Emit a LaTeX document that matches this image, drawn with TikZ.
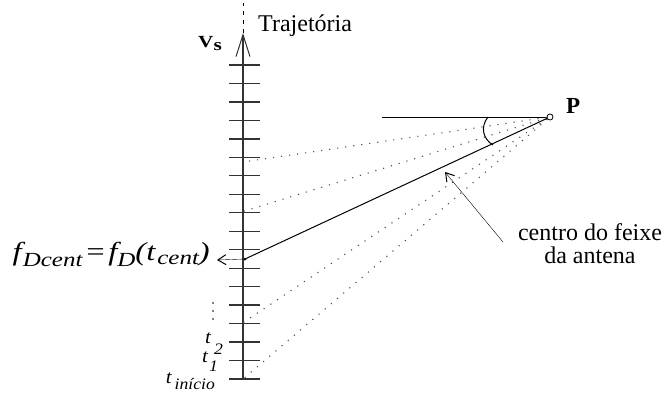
\documentclass[tikz,border=0pt]{standalone}
\usepackage{fontspec}
\setmainfont{Liberation Serif}
\newfontfamily\fwide[FakeStretch=1.25]{Liberation Serif}
\newfontfamily\fmid[FakeStretch=1.1]{Liberation Serif}
\usetikzlibrary{arrows.meta}
\begin{document}
\begin{tikzpicture}[x=1pt,y=-1pt,
  ticks/.style={line width=1.3pt,black!80},
  axisline/.style={line width=2pt,black!80},
  beam/.style={line width=1pt},
  dots/.style={line width=1.1pt,black!70,dash pattern=on 1.1pt off 7pt},
  lbl/.style={inner sep=0pt,font=\fontsize{24}{23}\selectfont},
  tlbl/.style={inner sep=0pt,anchor=base east,font=\fontsize{19}{19}\fmid\itshape},
  barb/.style={-{Straight Barb[length=8pt,width=10pt,line width=1pt]}}]
\useasboundingbox (0,0) rectangle (667,394);
% axis
\coordinate (Abot) at (243,379);
\coordinate (Atop) at (243,33);
\coordinate (Aend) at (243,3);
\foreach \i in {0,...,17}
  \draw[ticks] (229,{65+\i*18.47}) -- (260,{65+\i*18.47});
\draw[axisline,-{Straight Barb[length=22pt,width=14pt,line width=1pt]}] (Abot) -- (Atop);
\draw[line width=1pt,dash pattern=on 4pt off 5pt] (Atop) -- (Aend);
% labels on axis
\node[lbl,anchor=base west] (traj) at (258,31) {Trajetória};
\node[inner sep=0pt,anchor=base west,font=\fontsize{17}{17}\fwide\bfseries] (vs) at (198,47) {V\raisebox{-3pt}{s}};
% point P
\node[circle,draw,line width=0.8pt,minimum size=6pt,inner sep=0pt] (P) at (550,117) {};
\node[inner sep=0pt,anchor=base west,font=\fontsize{23}{23}\selectfont\bfseries] (Plbl) at (566,113) {P};
\coordinate (H) at (382,117);
\draw[beam] (H) -- (P);
% dotted beam edges
\coordinate (D1) at (243,162);
\coordinate (D2) at (243,211.5);
\coordinate (D4) at (243,322.7);
\coordinate (D5) at (243,379);
\foreach \d in {D1,D2,D4,D5}
  \draw[dots] (P) -- (\d);
% beam centre
\coordinate (B) at (245,259);
\draw[beam] (P) -- (B);
\fill (B) circle (1.5pt);
% angle mark
\coordinate (Ang1) at (488,117);
\coordinate (Ang2) at (493,145);
\draw[line width=1pt] (Ang1) .. controls (480,127) and (483,139) .. (Ang2);
% f label
\node[inner sep=0pt,anchor=base east,font=\fontsize{26}{26}\fwide\itshape] (fl) at (210,260)
  {f\kern1pt\raisebox{-6pt}{\fontsize{20}{20}\selectfont Dcent}\kern2pt=\kern2pt f\raisebox{-6pt}{\fontsize{20}{20}\selectfont D}(t\kern2pt\raisebox{-4pt}{\fontsize{20}{20}\selectfont cent})};
\coordinate (fA) at (217,260);
\draw[barb] (B) -- (fA);
% time labels
\node[tlbl] (t2) at (223,343) {t\kern3pt\raisebox{-11pt}{\fontsize{16}{16}\selectfont 2}};
\node[tlbl] (t1) at (218,362) {t\kern1pt\raisebox{-9pt}{\fontsize{16}{16}\selectfont 1}};
\node[tlbl] (t0) at (215,383) {t\kern3pt\raisebox{-6pt}{\fontsize{16}{16}\selectfont início}};
\foreach \y in {303,311,319}
  \fill (213,\y) circle (0.8pt);
% centre of beam label
\node[lbl,anchor=north,align=center] (feixe) at (590,223) {centro do feixe\\da antena};
\coordinate (cf) at (503,242);
\coordinate (cfTip) at (445,172);
\draw[barb] (cf) -- (cfTip);
\end{tikzpicture}
\end{document}
